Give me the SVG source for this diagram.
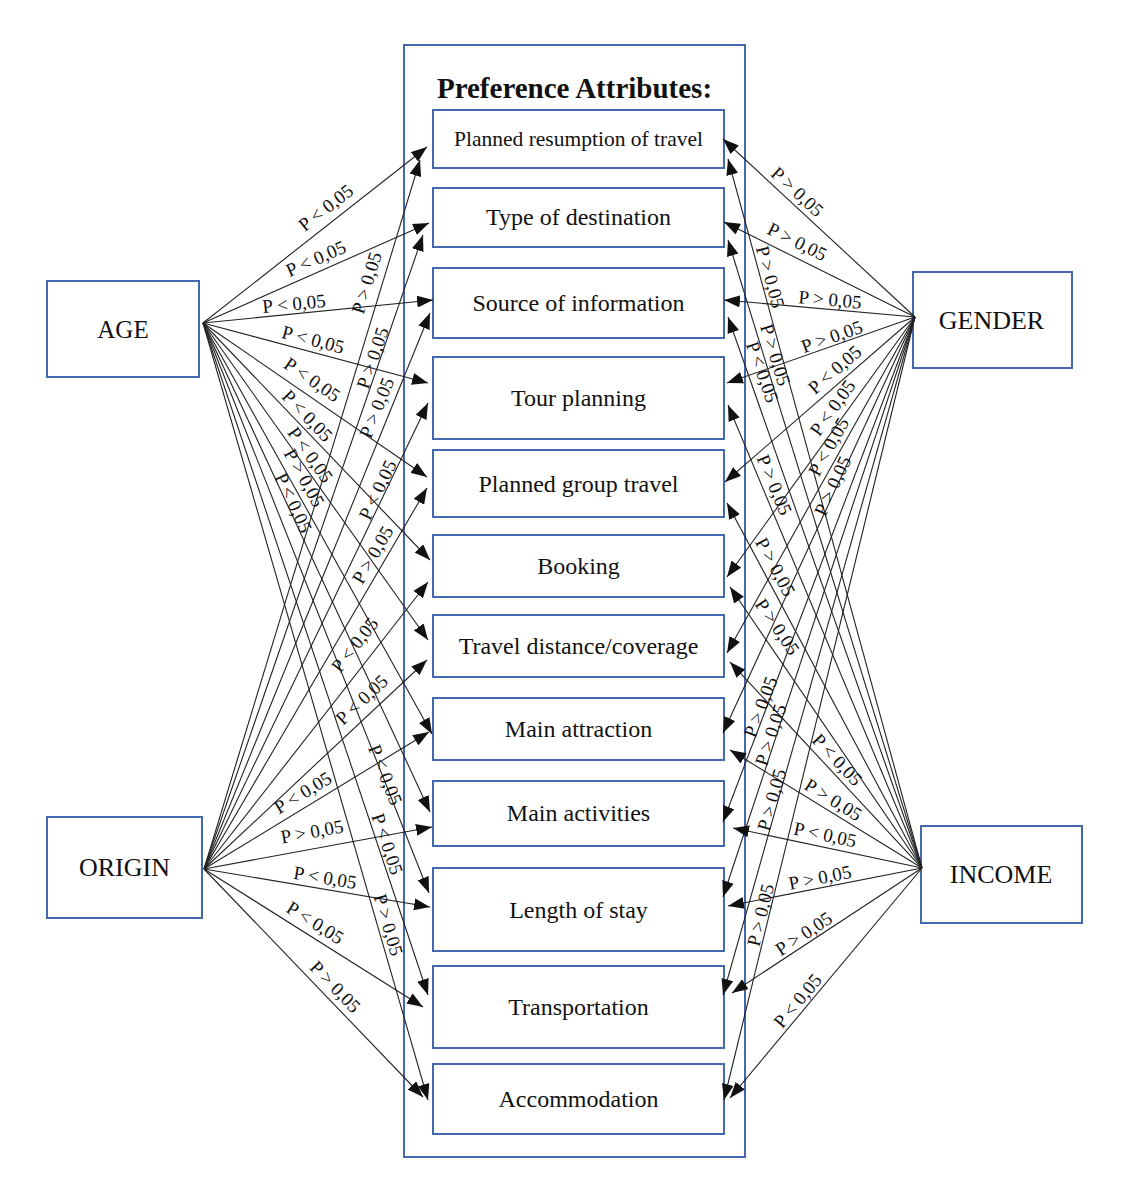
<svg xmlns="http://www.w3.org/2000/svg" width="1123" height="1198" viewBox="0 0 1123 1198">
<style>
.box{fill:#fff;stroke:#4468ae;stroke-width:2}
.outer{fill:#fff;stroke:#4468ae;stroke-width:2}
.t{font-family:"Liberation Serif","Times New Roman",serif;fill:#111;text-anchor:middle}
.nt{font-size:24px}
.src{font-size:26px}
.title{font-size:29px;font-weight:bold}
.c{stroke:#222;stroke-width:1.1;fill:none;marker-end:url(#ah)}
.l{font-family:"Liberation Serif","Times New Roman",serif;font-size:19px;fill:#111;text-anchor:middle}
</style>
<defs>
<marker id="ah" markerUnits="userSpaceOnUse" markerWidth="16" markerHeight="12" viewBox="0 0 16 12" refX="16" refY="6" orient="auto">
<path d="M0,0 L16,6 L0,12 z" fill="#111"/>
</marker>
</defs>
<rect width="1123" height="1198" fill="#fff"/>

<g id="container">
<rect class="outer" x="404" y="45" width="341" height="1112"/>
<text class="t title" x="574.5" y="98">Preference Attributes:</text>
</g>

<g id="attr1"><rect class="box" x="433" y="110" width="291" height="58"/><text class="t" style="font-size:21.5px" x="578.5" y="146">Planned resumption of travel</text></g>
<g id="attr2"><rect class="box" x="433" y="188" width="291" height="59"/><text class="t nt" x="578.5" y="225">Type of destination</text></g>
<g id="attr3"><rect class="box" x="433" y="268" width="291" height="70"/><text class="t nt" x="578.5" y="311">Source of information</text></g>
<g id="attr4"><rect class="box" x="433" y="357" width="291" height="82"/><text class="t nt" x="578.5" y="406">Tour planning</text></g>
<g id="attr5"><rect class="box" x="433" y="450" width="291" height="67"/><text class="t nt" x="578.5" y="492">Planned group travel</text></g>
<g id="attr6"><rect class="box" x="433" y="535" width="291" height="62"/><text class="t nt" x="578.5" y="574">Booking</text></g>
<g id="attr7"><rect class="box" x="433" y="615" width="291" height="62"/><text class="t nt" x="578.5" y="654">Travel distance/coverage</text></g>
<g id="attr8"><rect class="box" x="433" y="698" width="291" height="62"/><text class="t nt" x="578.5" y="737">Main attraction</text></g>
<g id="attr9"><rect class="box" x="433" y="781" width="291" height="65"/><text class="t nt" x="578.5" y="821">Main activities</text></g>
<g id="attr10"><rect class="box" x="433" y="868" width="291" height="83"/><text class="t nt" x="578.5" y="918">Length of stay</text></g>
<g id="attr11"><rect class="box" x="433" y="966" width="291" height="82"/><text class="t nt" x="578.5" y="1015">Transportation</text></g>
<g id="attr12"><rect class="box" x="433" y="1064" width="291" height="70"/><text class="t nt" x="578.5" y="1107">Accommodation</text></g>

<g id="age"><rect class="box" x="47" y="281" width="152" height="96"/><text class="t" style="font-size:25px" x="123" y="338">AGE</text></g>
<g id="origin"><rect class="box" x="47" y="817" width="155" height="101"/><text class="t src" x="124.5" y="876">ORIGIN</text></g>
<g id="gender"><rect class="box" x="913" y="272" width="159" height="96"/><text class="t src" x="991.5" y="329">GENDER</text></g>
<g id="income"><rect class="box" x="921" y="826" width="161" height="97"/><text class="t src" x="1001" y="883">INCOME</text></g>

<g id="connectors">
<line class="c" x1="203" y1="323" x2="427" y2="147"/>
<line class="c" x1="203" y1="323" x2="429" y2="223"/>
<line class="c" x1="203" y1="323" x2="433" y2="300"/>
<line class="c" x1="203" y1="323" x2="428" y2="383"/>
<line class="c" x1="203" y1="323" x2="427" y2="477"/>
<line class="c" x1="203" y1="323" x2="430" y2="560"/>
<line class="c" x1="203" y1="323" x2="428" y2="640"/>
<line class="c" x1="203" y1="323" x2="432" y2="734"/>
<line class="c" x1="203" y1="323" x2="430" y2="812"/>
<line class="c" x1="203" y1="323" x2="429" y2="893"/>
<line class="c" x1="203" y1="323" x2="428" y2="995"/>
<line class="c" x1="203" y1="323" x2="428" y2="1100"/>

<line class="c" x1="204" y1="869" x2="420" y2="160"/>
<line class="c" x1="204" y1="869" x2="423" y2="235"/>
<line class="c" x1="204" y1="869" x2="430" y2="313"/>
<line class="c" x1="204" y1="869" x2="428" y2="403"/>
<line class="c" x1="204" y1="869" x2="427" y2="488"/>
<line class="c" x1="204" y1="869" x2="428" y2="582"/>
<line class="c" x1="204" y1="869" x2="427" y2="660"/>
<line class="c" x1="204" y1="869" x2="429" y2="732"/>
<line class="c" x1="204" y1="869" x2="432" y2="827"/>
<line class="c" x1="204" y1="869" x2="430" y2="907"/>
<line class="c" x1="204" y1="869" x2="423" y2="1007"/>
<line class="c" x1="204" y1="869" x2="423" y2="1097"/>

<line class="c" x1="915" y1="317" x2="723" y2="139"/>
<line class="c" x1="915" y1="317" x2="724" y2="222"/>
<line class="c" x1="915" y1="317" x2="724" y2="300"/>
<line class="c" x1="915" y1="317" x2="727" y2="383"/>
<line class="c" x1="915" y1="317" x2="725" y2="482"/>
<line class="c" x1="915" y1="317" x2="727" y2="577"/>
<line class="c" x1="915" y1="317" x2="727" y2="653"/>
<line class="c" x1="915" y1="317" x2="723" y2="733"/>
<line class="c" x1="915" y1="317" x2="723" y2="822"/>
<line class="c" x1="915" y1="317" x2="723" y2="897"/>
<line class="c" x1="915" y1="317" x2="723" y2="995"/>
<line class="c" x1="915" y1="317" x2="724" y2="1100"/>

<line class="c" x1="922" y1="868" x2="728" y2="159"/>
<line class="c" x1="922" y1="868" x2="728" y2="240"/>
<line class="c" x1="922" y1="868" x2="728" y2="317"/>
<line class="c" x1="922" y1="868" x2="728" y2="405"/>
<line class="c" x1="922" y1="868" x2="727" y2="503"/>
<line class="c" x1="922" y1="868" x2="730" y2="587"/>
<line class="c" x1="922" y1="868" x2="730" y2="662"/>
<line class="c" x1="922" y1="868" x2="730" y2="750"/>
<line class="c" x1="922" y1="868" x2="733" y2="828"/>
<line class="c" x1="922" y1="868" x2="728" y2="906"/>
<line class="c" x1="922" y1="868" x2="732" y2="993"/>
<line class="c" x1="922" y1="868" x2="730" y2="1098"/>
</g>

<g id="labels">
<text class="l" y="6" transform="translate(326 208) rotate(-38.2)">P &lt; 0,05</text>
<text class="l" y="6" transform="translate(316 259) rotate(-23.9)">P &lt; 0,05</text>
<text class="l" y="6" transform="translate(294 304) rotate(-5.7)">P &lt; 0,05</text>
<text class="l" y="6" transform="translate(313 340) rotate(14.9)">P &lt; 0,05</text>
<text class="l" y="6" transform="translate(312 380) rotate(34.5)">P &lt; 0,05</text>
<text class="l" y="6" transform="translate(307 416) rotate(46.2)">P &lt; 0,05</text>
<text class="l" y="6" transform="translate(310 455) rotate(54.6)">P &lt; 0,05</text>
<text class="l" y="6" transform="translate(304 478) rotate(60.9)">P &gt; 0,05</text>
<text class="l" y="6" transform="translate(293 503) rotate(65.1)">P &lt; 0,05</text>
<text class="l" y="6" transform="translate(385 775) rotate(68.4)">P &lt; 0,05</text>
<text class="l" y="6" transform="translate(387 844) rotate(71.5)">P &lt; 0,05</text>
<text class="l" y="6" transform="translate(388 925) rotate(73.8)">P &gt; 0,05</text>

<text class="l" y="6" transform="translate(367 283) rotate(-73.1)">P &gt; 0,05</text>
<text class="l" y="6" transform="translate(373 358) rotate(-71)">P &gt; 0,05</text>
<text class="l" y="6" transform="translate(377 408) rotate(-67.9)">P &gt; 0,05</text>
<text class="l" y="6" transform="translate(378 490) rotate(-64.3)">P &lt; 0,05</text>
<text class="l" y="6" transform="translate(373 555) rotate(-59.7)">P &gt; 0,05</text>
<text class="l" y="6" transform="translate(355 645) rotate(-52)">P &lt; 0,05</text>
<text class="l" y="6" transform="translate(362 700) rotate(-43.1)">P &lt; 0,05</text>
<text class="l" y="6" transform="translate(303 793) rotate(-31)">P &lt; 0,05</text>
<text class="l" y="6" transform="translate(312 832) rotate(-10.4)">P &gt; 0,05</text>
<text class="l" y="6" transform="translate(325 878) rotate(9.5)">P &lt; 0,05</text>
<text class="l" y="6" transform="translate(315 923) rotate(32.2)">P &lt; 0,05</text>
<text class="l" y="6" transform="translate(335 987) rotate(46.2)">P &gt; 0,05</text>

<text class="l" y="6" transform="translate(797 192) rotate(42.8)">P &gt; 0,05</text>
<text class="l" y="6" transform="translate(797 242) rotate(26.4)">P &gt; 0,05</text>
<text class="l" y="6" transform="translate(830 300) rotate(5.1)">P &gt; 0,05</text>
<text class="l" y="6" transform="translate(832 337) rotate(-19.3)">P &gt; 0,05</text>
<text class="l" y="6" transform="translate(835 370) rotate(-41)">P &lt; 0,05</text>
<text class="l" y="6" transform="translate(833 408) rotate(-54.1)">P &lt; 0,05</text>
<text class="l" y="6" transform="translate(829 447) rotate(-60.8)">P &lt; 0,05</text>
<text class="l" y="6" transform="translate(833 486) rotate(-65.2)">P &gt; 0,05</text>
<text class="l" y="6" transform="translate(761 707) rotate(-69.2)">P &gt; 0,05</text>
<text class="l" y="6" transform="translate(771 735) rotate(-71.7)">P &gt; 0,05</text>
<text class="l" y="6" transform="translate(772 800) rotate(-74.2)">P &gt; 0,05</text>
<text class="l" y="6" transform="translate(761 915) rotate(-76.3)">P &gt; 0,05</text>

<text class="l" y="6" transform="translate(770 277) rotate(74.7)">P &gt; 0,05</text>
<text class="l" y="6" transform="translate(775 355) rotate(72.8)">P &gt; 0,05</text>
<text class="l" y="6" transform="translate(762 372) rotate(70.6)">P &lt; 0,05</text>
<text class="l" y="6" transform="translate(774 485) rotate(67.3)">P &gt; 0,05</text>
<text class="l" y="6" transform="translate(775 567) rotate(61.9)">P &gt; 0,05</text>
<text class="l" y="6" transform="translate(777 627) rotate(55.7)">P &gt; 0,05</text>
<text class="l" y="6" transform="translate(837 760) rotate(47)">P &lt; 0,05</text>
<text class="l" y="6" transform="translate(833 800) rotate(31.6)">P &gt; 0,05</text>
<text class="l" y="6" transform="translate(825 835) rotate(11.9)">P &lt; 0,05</text>
<text class="l" y="6" transform="translate(820 878) rotate(-11.1)">P &gt; 0,05</text>
<text class="l" y="6" transform="translate(804 934) rotate(-33.3)">P &gt; 0,05</text>
<text class="l" y="6" transform="translate(798 1001) rotate(-50.1)">P &lt; 0,05</text>
</g>
</svg>
